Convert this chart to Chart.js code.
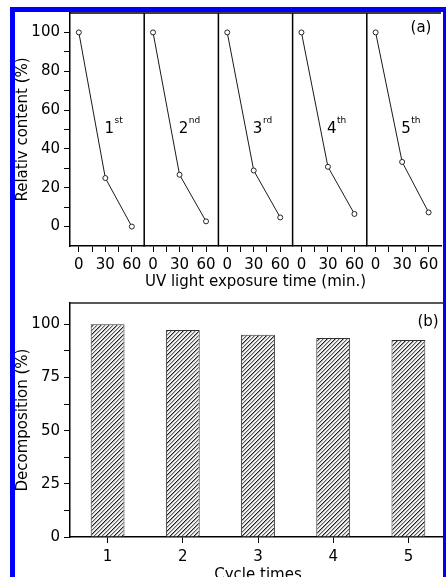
<!DOCTYPE html>
<html>
<head>
<meta charset="utf-8">
<script src="https://cdn.jsdelivr.net/npm/chart.js@4.4.0/dist/chart.umd.min.js"></script>
<style>
  html, body { margin: 0; padding: 0; background: #fff; }
  body { width: 446px; height: 577px; position: relative; overflow: hidden; }
  canvas { position: absolute; left: 0; }
  #topChart { top: 0; }
  #bottomChart { top: 290px; }
  #frame {
    position: absolute; left: 10px; top: 7px; width: 438px; height: 640px;
    border: 5px solid rgb(0, 0, 250); box-sizing: border-box; pointer-events: none;
  }
</style>
</head>
<body>
<canvas id="topChart" width="446" height="300"></canvas>
<canvas id="bottomChart" width="446" height="300"></canvas>
<div id="frame"></div>
<script>
// (a) relative content vs UV exposure time, one panel per cycle
let exposureTimes = [0, 30, 60];
let run1 = [100, 25.0, 0.0];
let run2 = [100, 26.7, 2.7];
let run3 = [100, 28.9, 4.7];
let run4 = [100, 30.8, 6.5];
let run5 = [100, 33.3, 7.3];
let runs = [run1, run2, run3, run4, run5];
let runNumbers = ['1', '2', '3', '4', '5'];
let runSuffixes = ['st', 'nd', 'rd', 'th', 'th'];

let timeTicks = [0, 15, 30, 45, 60];
let contentTicks = [0, 10, 20, 30, 40, 50, 60, 70, 80, 90, 100];

// (b) decomposition per cycle
let cycles = ['1', '2', '3', '4', '5'];
let decomposition = [100, 97.3, 95.1, 93.6, 92.6];
let decompTicks = [0, 12.5, 25, 37.5, 50, 62.5, 75, 87.5, 100];

Chart.defaults.font.family = '"DejaVu Sans", sans-serif';
Chart.defaults.font.size = 15;
Chart.defaults.color = '#000';

let FONT = '"DejaVu Sans", sans-serif';

function axisGrid() {
    return { drawOnChartArea: false, drawTicks: true, tickLength: 6, color: '#000', lineWidth: 1 };
}
function axisBorder() {
    return { display: true, color: '#000', width: 1.5 };
}

// hatched fill for the bars
let tile = document.createElement('canvas');
tile.width = 8;
tile.height = 8;
let tctx = tile.getContext('2d');
tctx.fillStyle = '#f0f0f0';
tctx.fillRect(0, 0, 8, 8);
for (let i = 0; i < 8; i++) {
    tctx.fillStyle = '#1e1e1e';
    tctx.fillRect(i, 7 - i, 1, 1);
    tctx.fillStyle = '#9a9a9a';
    tctx.fillRect(i, (8 - i) % 8, 1, 1);
    tctx.fillStyle = '#606060';
    tctx.fillRect(i, (11 - i) % 8, 1, 1);
    tctx.fillStyle = '#bdbdbd';
    tctx.fillRect(i, (12 - i) % 8, 1, 1);
}
let hatch = tctx.createPattern(tile, 'repeat');

// ---------- top chart ----------
let topScales = {
    y: {
        type: 'linear',
        position: 'left',
        min: -10,
        max: 110,
        bounds: 'data',
        afterBuildTicks: s => { s.ticks = contentTicks.map(v => ({ value: v })); },
        afterFit: s => { s.width = 70; },
        ticks: { autoSkip: false, padding: 4, callback: v => (v % 20 === 0 ? v : '') },
        grid: axisGrid(),
        border: axisBorder(),
        title: { display: true, text: 'Relativ content (%)', color: '#000', font: { size: 15 }, padding: { top: 14.5, bottom: 0 } }
    }
};

let topDatasets = [];
runs.forEach((run, i) => {
    let id = 'x' + (i + 1);
    topScales[id] = {
        type: 'linear',
        position: 'bottom',
        stack: 'runs',
        stackWeight: 1,
        min: -10,
        max: 74,
        bounds: 'data',
        afterBuildTicks: s => { s.ticks = timeTicks.map(v => ({ value: v })); },
        afterFit: s => { s.height = 27; s.paddingLeft = 0; s.paddingRight = 0; },
        ticks: { autoSkip: false, maxRotation: 0, minRotation: 0, padding: 4, callback: v => (v % 30 === 0 ? v : '') },
        grid: axisGrid(),
        border: axisBorder()
    };
    topDatasets.push({
        data: exposureTimes.map((t, k) => ({ x: t, y: run[k] })),
        xAxisID: id,
        yAxisID: 'y',
        borderColor: '#1a1a1a',
        borderWidth: 1,
        pointRadius: 2.5,
        pointBackgroundColor: '#fff',
        pointBorderColor: '#222',
        pointBorderWidth: 1,
        tension: 0
    });
});

let topDecor = {
    id: 'topDecor',
    afterDraw(chart) {
        let { ctx, chartArea, scales } = chart;
        ctx.save();
        ctx.strokeStyle = '#000';
        ctx.lineWidth = 1.5;
        ctx.beginPath();
        for (let i = 2; i <= runs.length; i++) {
            let left = scales['x' + i].left;
            ctx.moveTo(left, chartArea.top);
            ctx.lineTo(left, chartArea.bottom);
        }
        ctx.moveTo(chartArea.left, chartArea.top);
        ctx.lineTo(chartArea.right, chartArea.top);
        ctx.stroke();

        ctx.fillStyle = '#000';
        ctx.textBaseline = 'middle';
        ctx.textAlign = 'left';
        runs.forEach((run, i) => {
            let x = scales['x' + (i + 1)].getPixelForValue(29);
            let y = scales.y.getPixelForValue(50);
            ctx.font = '15px ' + FONT;
            ctx.fillText(runNumbers[i], x, y);
            let w = ctx.measureText(runNumbers[i]).width;
            ctx.font = '9px ' + FONT;
            ctx.fillText(runSuffixes[i], x + w + 0.5, y - 9);
        });

        ctx.font = '15px ' + FONT;
        ctx.textAlign = 'center';
        ctx.fillText('(a)', chartArea.right - 20, chartArea.top + 15);
        ctx.restore();
    }
};

new Chart(document.getElementById('topChart').getContext('2d'), {
    type: 'line',
    data: { datasets: topDatasets },
    options: {
        responsive: false,
        animation: false,
        events: [],
        layout: { padding: { top: 11, left: 0, right: 0, bottom: 0 } },
        scales: topScales,
        plugins: {
            legend: { display: false },
            tooltip: { enabled: false },
            title: {
                display: true,
                position: 'bottom',
                fullSize: false,
                text: 'UV light exposure time (min.)',
                color: '#000',
                font: { size: 15, weight: 'normal' },
                padding: { top: 0, bottom: 9 }
            }
        }
    },
    plugins: [topDecor]
});

// ---------- bottom chart ----------
let bottomDecor = {
    id: 'bottomDecor',
    afterDraw(chart) {
        let { ctx, chartArea } = chart;
        ctx.save();
        ctx.strokeStyle = '#222';
        ctx.lineWidth = 1.5;
        ctx.beginPath();
        ctx.moveTo(chartArea.left, chartArea.top);
        ctx.lineTo(chartArea.right, chartArea.top);
        ctx.lineTo(chartArea.right, chartArea.bottom);
        ctx.stroke();
        ctx.fillStyle = '#000';
        ctx.font = '15px ' + FONT;
        ctx.textAlign = 'center';
        ctx.textBaseline = 'middle';
        ctx.fillText('(b)', chartArea.right - 18, chartArea.top + 19);
        ctx.restore();
    }
};

new Chart(document.getElementById('bottomChart').getContext('2d'), {
    type: 'bar',
    data: {
        labels: cycles,
        datasets: [{
            data: decomposition,
            backgroundColor: hatch,
            borderColor: '#333',
            borderWidth: 1,
            categoryPercentage: 1,
            barPercentage: 0.45
        }]
    },
    options: {
        responsive: false,
        animation: false,
        events: [],
        layout: { padding: { top: 11.7, left: 0, right: 0, bottom: 0 } },
        scales: {
            x: {
                afterFit: s => { s.height = 53; },
                ticks: { padding: 5, maxRotation: 0 },
                grid: Object.assign(axisGrid(), { offset: false }),
                border: axisBorder(),
                title: { display: true, text: 'Cycle times', color: '#000', font: { size: 15 }, padding: { top: 0, bottom: 6 } }
            },
            y: {
                min: 0,
                max: 110,
                bounds: 'data',
                afterBuildTicks: s => { s.ticks = decompTicks.map(v => ({ value: v })); },
                afterFit: s => { s.width = 70; },
                ticks: { autoSkip: false, padding: 4, callback: v => (v % 25 === 0 ? v : '') },
                grid: axisGrid(),
                border: axisBorder(),
                title: { display: true, text: 'Decomposition (%)', color: '#000', font: { size: 15 }, padding: { top: 14.5, bottom: 0 } }
            }
        },
        plugins: {
            legend: { display: false },
            tooltip: { enabled: false }
        }
    },
    plugins: [bottomDecor]
});
</script>
</body>
</html>
